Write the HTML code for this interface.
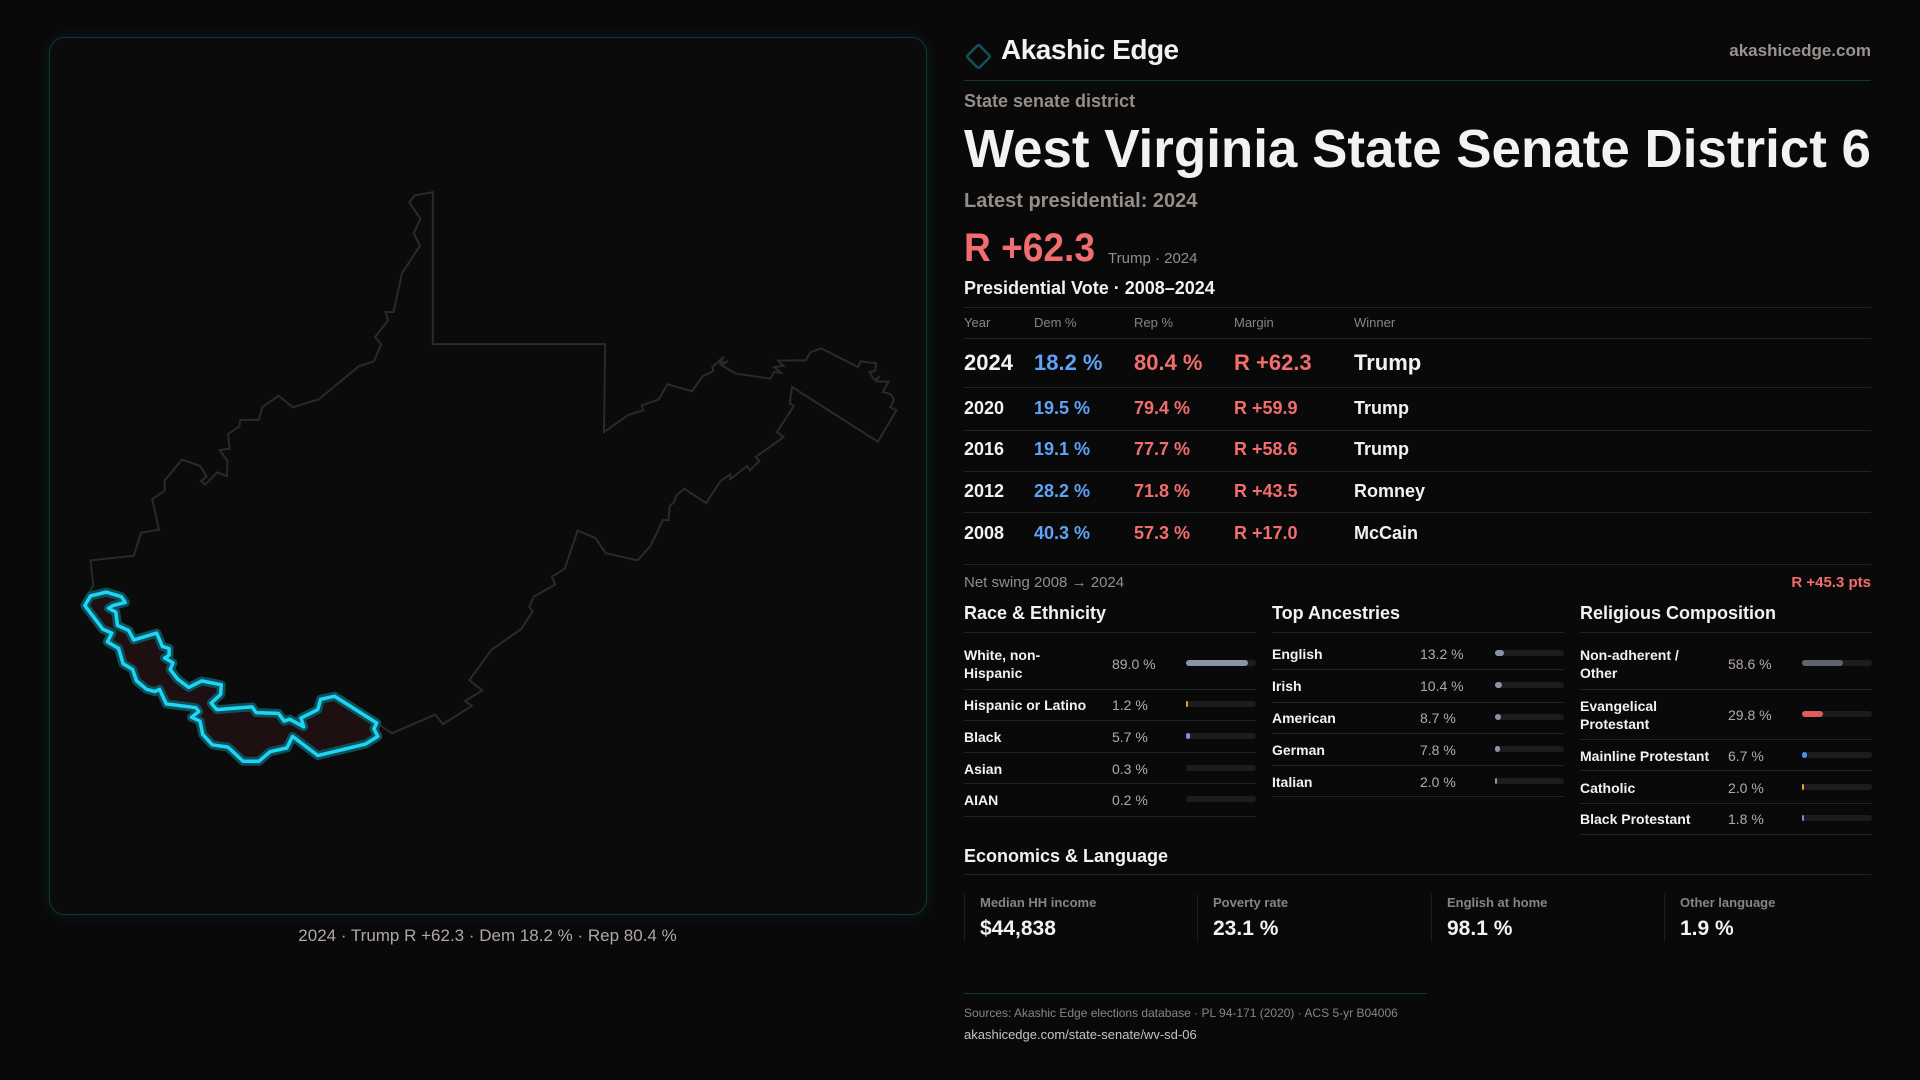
<!DOCTYPE html>
<html><head><meta charset="utf-8">
<style>
*{margin:0;padding:0;box-sizing:border-box}
body{width:1920px;height:1080px;background:#0a090a;color:#f2f2f2;font-family:"Liberation Sans",sans-serif;position:relative;overflow:hidden}
.a{position:absolute;white-space:nowrap}
.g{color:#958d88}
.hl{position:absolute;height:1px;background:#232325}
.b{color:#5fa2f7}.r{color:#f26d6d}
.th{font-size:13px;color:#8a8480;top:315px}
.fit{display:inline-block;transform-origin:0 50%}
</style></head><body>
<div class="a" style="left:49px;top:37px;width:878px;height:878px;border:1px solid #12363b;border-radius:16px;background:#0b0b0c;box-shadow:0 0 14px rgba(0,180,200,0.12)">
</div>
<svg class="a" style="left:0;top:0" width="960" height="960">
<g transform="translate(40,170) scale(0.5612,0.3827)">
<polygon fill="none" stroke="#2a2a2c" stroke-width="2" vector-effect="non-scaling-stroke" points="668,66 700,58 700,455 1007,455 1005,685 1048,640 1075,628 1072,615 1102,600 1118,560 1162,578 1180,540 1200,525 1198,515 1218,488 1212,505 1226,500 1214,510 1240,532 1302,545 1308,528 1320,530 1308,515 1325,512 1315,498 1365,497 1372,477 1392,466 1458,515 1462,500 1490,505 1488,525 1478,528 1486,548 1494,542 1490,553 1512,553 1502,580 1515,585 1522,600 1515,620 1526,628 1493,710 1340,567 1336,610 1343,617 1313,685 1325,698 1275,750 1282,760 1265,785 1260,773 1230,808 1230,795 1213,812 1187,870 1148,833 1133,852 1130,868 1122,878 1120,915 1110,915 1088,982 1065,1020 1008,1001 990,962 958,942 935,1042 912,1063 918,1083 880,1115 872,1142 878,1153 857,1200 805,1253 765,1333 788,1360 757,1388 770,1400 718,1448 704,1423 627,1472 600,1445 580,1500 495,1530 450,1480 430,1515 400,1525 385,1545 360,1545 330,1505 300,1500 280,1440 265,1425 285,1410 270,1395 220,1390 205,1355 185,1360 170,1340 165,1300 145,1285 138,1245 115,1230 125,1200 110,1195 80,1140 85,1110 95,1085 90,1020 167,1008 180,948 212,940 200,860 222,838 222,812 253,757 285,773 297,800 287,813 294,822 316,790 333,800 334,760 320,732 338,728 335,690 355,670 357,653 390,653 396,620 425,590 451,620 497,599 568,513 595,500 608,455 597,437 620,393 616,371 630,371 645,270 677,198 666,165 678,128 658,84"/>
<polygon fill="#1e1010" stroke="#0d4f5a" stroke-width="9" stroke-linejoin="round" vector-effect="non-scaling-stroke" points="80,1138 90,1113 118,1103 145,1115 152,1130 130,1138 122,1145 135,1155 138,1190 158,1203 167,1228 208,1210 218,1245 230,1250 230,1268 222,1275 237,1288 232,1305 245,1330 265,1352 288,1335 323,1345 322,1370 305,1393 315,1410 378,1403 385,1418 425,1420 435,1440 445,1435 470,1455 465,1432 495,1410 500,1383 525,1375 600,1445 595,1460 602,1480 580,1500 495,1530 450,1480 440,1510 410,1520 390,1545 362,1545 335,1508 307,1502 290,1475 285,1440 270,1430 283,1415 278,1405 225,1395 213,1357 205,1363 190,1357 172,1335 165,1305 148,1290 140,1250 120,1233 128,1210 112,1200"/>
<polygon fill="none" stroke="#1fd6f2" stroke-width="3.5" stroke-linejoin="round" vector-effect="non-scaling-stroke" points="80,1138 90,1113 118,1103 145,1115 152,1130 130,1138 122,1145 135,1155 138,1190 158,1203 167,1228 208,1210 218,1245 230,1250 230,1268 222,1275 237,1288 232,1305 245,1330 265,1352 288,1335 323,1345 322,1370 305,1393 315,1410 378,1403 385,1418 425,1420 435,1440 445,1435 470,1455 465,1432 495,1410 500,1383 525,1375 600,1445 595,1460 602,1480 580,1500 495,1530 450,1480 440,1510 410,1520 390,1545 362,1545 335,1508 307,1502 290,1475 285,1440 270,1430 283,1415 278,1405 225,1395 213,1357 205,1363 190,1357 172,1335 165,1305 148,1290 140,1250 120,1233 128,1210 112,1200"/>
</g></svg>
<div class="a g" style="left:0;width:975px;text-align:center;top:926px;font-size:17px;color:#b0a8a3">2024 · Trump R +62.3 · Dem 18.2 % · Rep 80.4 %</div>

<svg class="a" style="left:962px;top:40px" width="32" height="32"><rect x="8" y="8" width="17" height="17" transform="rotate(45 16.5 16.5)" fill="none" stroke="#13525a" stroke-width="2.5" rx="2"/></svg>
<div class="a" style="left:1001px;top:34px;font-size:28px;font-weight:bold;letter-spacing:-0.5px">Akashic Edge</div>
<div class="a g" style="right:49px;top:41px;font-size:17px;font-weight:bold;color:#9a928d">akashicedge.com</div>
<div class="hl" style="left:964px;width:907px;top:80px;background:#10353a"></div>
<div class="a g" style="left:964px;top:91px;font-size:18px;font-weight:bold">State senate district</div>
<div class="a" style="left:964px;top:117px;font-size:54px;font-weight:bold;line-height:64px"><span class="fit" data-w="907">West Virginia State Senate District 6</span></div>
<div class="a g" style="left:964px;top:190px;font-size:20px;font-weight:bold">Latest presidential: 2024</div>
<div class="a r" style="left:964px;top:226px;font-size:40px;font-weight:bold"><span class="fit" data-w="131">R +62.3</span></div>
<div class="a g" style="left:1108px;top:250px;font-size:15px">Trump · 2024</div>
<div class="a" style="left:964px;top:278px;font-size:18px;font-weight:bold">Presidential Vote · 2008–2024</div>
<div class="hl" style="left:964px;width:907px;top:307px"></div>
<div class="a th" style="left:964px">Year</div>
<div class="a th" style="left:1034px">Dem %</div>
<div class="a th" style="left:1134px">Rep %</div>
<div class="a th" style="left:1234px">Margin</div>
<div class="a th" style="left:1354px">Winner</div>
<div class="hl" style="left:964px;width:907px;top:338px"></div>
<div id="table"></div>
<div class="hl" style="left:964px;width:907px;top:564px"></div>
<div class="a g" style="left:964px;top:574px;font-size:15px">Net swing 2008 → 2024</div>
<div class="a r" style="right:49px;top:574px;font-size:15px;font-weight:bold">R +45.3 pts</div>
<div id="demo"></div>
<div class="a" style="left:964px;top:846px;font-size:18px;font-weight:bold">Economics &amp; Language</div>
<div class="hl" style="left:964px;width:907px;top:874px"></div>
<div id="econ"></div>
<div class="hl" style="left:964px;width:463px;top:993px;background:#12363b"></div>
<div class="a g" style="left:964px;top:1006px;font-size:12px;color:#8a8480">Sources: Akashic Edge elections database · PL 94-171 (2020) · ACS 5-yr B04006</div>
<div class="a" style="left:964px;top:1027px;font-size:13px;color:#c8c2be">akashicedge.com/state-senate/wv-sd-06</div>
<script>
const years=["2024","2020","2016","2012","2008"];
const demPct=[18.2,19.5,19.1,28.2,40.3];
const repPct=[80.4,79.4,77.7,71.8,57.3];
const margins=[62.3,59.9,58.6,43.5,17.0];
const winners=["Trump","Trump","Trump","Romney","McCain"];
const raceLabels=["White, non-\nHispanic","Hispanic or Latino","Black","Asian","AIAN"];
const raceValues=[89.0,1.2,5.7,0.3,0.2];
const ancLabels=["English","Irish","American","German","Italian"];
const ancValues=[13.2,10.4,8.7,7.8,2.0];
const relLabels=["Non-adherent /\nOther","Evangelical\nProtestant","Mainline Protestant","Catholic","Black Protestant"];
const relValues=[58.6,29.8,6.7,2.0,1.8];
const econLabels=["Median HH income","Poverty rate","English at home","Other language"];
const econValues=["$44,838","23.1 %","98.1 %","1.9 %"];

function mk(parent,cls,style,html){const d=document.createElement('div');d.className=cls;d.setAttribute('style',style);d.innerHTML=html;parent.appendChild(d);return d;}
const T=document.getElementById('table');
const rowY=[363,409,450,492,534], sepY=[387,430,471,512,553];
years.forEach((y,i)=>{
  const fs=i==0?22:18, top=rowY[i]-fs*0.6;
  const s='top:'+top+'px;font-size:'+fs+'px;font-weight:bold;';
  let e=mk(T,'a','left:964px;'+s,y);
  
  
  e=mk(T,'a b','left:1034px;'+s,demPct[i].toFixed(1)+' %');
  
  
  e=mk(T,'a r','left:1134px;'+s,repPct[i].toFixed(1)+' %');
  
  
  e=mk(T,'a r','left:1234px;'+s,'R +'+margins[i].toFixed(1));
  
  
  e=mk(T,'a','left:1354px;'+s,winners[i]);
  
  
  if(i<4) mk(T,'hl','left:964px;width:907px;top:'+sepY[i]+'px','');
});
const D=document.getElementById('demo');
const sections=[
 {title:"Race & Ethnicity",x:964,labels:raceLabels,values:raceValues,colors:["#8a94a6","#e0a030","#9a7cf0","#8a94a6","#8a94a6"],rows:[663,704,736,768,799],seps:[689,720,752,783,816],vx:1112,bx:1186,bw:70},
 {title:"Top Ancestries",x:1272,labels:ancLabels,values:ancValues,colors:["#8a94a6","#8a94a6","#8a94a6","#8a94a6","#8a94a6"],rows:[653,685,717,749,781],seps:[669,702,733,765,796],vx:1420,bx:1495,bw:69},
 {title:"Religious Composition",x:1580,labels:relLabels,values:relValues,colors:["#5f6470","#e05c5c","#4f8de8","#e0a030","#8a7cf0"],rows:[663,714,755,787,818],seps:[689,739,770,803,834],vx:1728,bx:1802,bw:70}
];
sections.forEach((S,si)=>{
  let e=mk(D,'a','left:'+S.x+'px;top:603px;font-size:18px;font-weight:bold',S.title.replace('&','&amp;'));
  
  
  mk(D,'hl','left:'+S.x+'px;width:'+(S.bx+S.bw-S.x)+'px;top:632px','');
  S.labels.forEach((l,i)=>{
    const two=l.indexOf('\n')>=0;
    e=mk(D,'a','left:'+S.x+'px;top:'+(S.rows[i]-(two?17:8))+'px;font-size:14px;font-weight:bold;line-height:18px;white-space:pre',l);
    
    
    e=mk(D,'a g','left:'+S.vx+'px;top:'+(S.rows[i]-8)+'px;font-size:14px;line-height:18px;color:#b3aaa5',S.values[i].toFixed(1)+' %');
    
    
    e=mk(D,'a','left:'+S.bx+'px;top:'+(S.rows[i]-3)+'px;width:'+S.bw+'px;height:6px;border-radius:3px;background:#1c1c1f','');
    
    
    const w=S.values[i]>=1?Math.max(S.bw*S.values[i]/100,2):0;
    e=mk(D,'a','left:'+S.bx+'px;top:'+(S.rows[i]-3)+'px;width:'+w+'px;height:6px;border-radius:3px;background:'+S.colors[i],'');
    
    
    mk(D,'hl','left:'+S.x+'px;width:'+(S.bx+S.bw-S.x)+'px;top:'+S.seps[i]+'px','');
  });
});
const E=document.getElementById('econ');
const cx=[964,1197,1431,1664];
econLabels.forEach((l,i)=>{
  let e=mk(E,'a','left:'+cx[i]+'px;top:894px;width:1px;height:48px;background:#1d1d20','');
  
  
  e=mk(E,'a g','left:'+(cx[i]+16)+'px;top:895px;font-size:13px;font-weight:bold;color:#8a8480',l);
  
  
  e=mk(E,'a','left:'+(cx[i]+16)+'px;top:917px;font-size:21px;font-weight:bold',econValues[i]);
  
  
});
document.querySelectorAll('.fit').forEach(s=>{const w=s.getBoundingClientRect().width;const t=+s.dataset.w;if(w>0)s.style.transform='scaleX('+(t/w)+')';});
</script>
</body></html>
